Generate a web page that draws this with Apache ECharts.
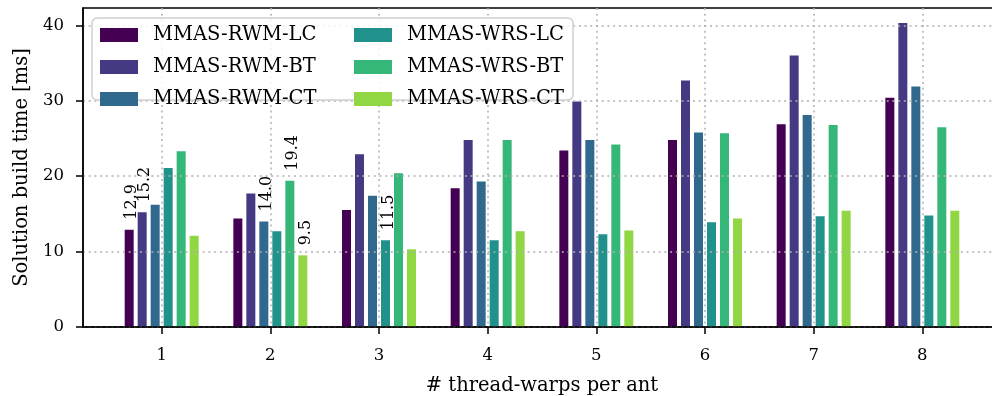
<!DOCTYPE html>
<html><head><meta charset="utf-8">
<script src="https://cdn.jsdelivr.net/npm/echarts@6/dist/echarts.min.js"></script>
<style>html,body{margin:0;padding:0;background:#fff}#c{width:992px;height:396px}</style>
</head><body><div id="c"></div>
<script>
// ---- data ----
const categories = [1, 2, 3, 4, 5, 6, 7, 8];
const seriesNames = ['MMAS-RWM-LC', 'MMAS-RWM-BT', 'MMAS-RWM-CT', 'MMAS-WRS-LC', 'MMAS-WRS-BT', 'MMAS-WRS-CT'];
const rwmLC = [12.9, 14.4, 15.5, 18.4, 23.4, 24.8, 26.9, 30.4];
const rwmBT = [15.2, 17.7, 22.9, 24.8, 29.9, 32.7, 36.0, 40.3];
const rwmCT = [16.2, 14.0, 17.4, 19.3, 24.8, 25.8, 28.1, 31.9];
const wrsLC = [21.1, 12.7, 11.5, 11.5, 12.3, 13.9, 14.7, 14.8];
const wrsBT = [23.3, 19.4, 20.4, 24.8, 24.2, 25.7, 26.8, 26.5];
const wrsCT = [12.1, 9.5, 10.3, 12.7, 12.8, 14.4, 15.4, 15.4];
const yTicks = [0, 10, 20, 30, 40];
// indices (into categories) of bars that carry a value annotation, per series
const annotatedLC = [0];
const annotatedBT = [0];
const annotatedCT = [1];
const annotatedWLC = [2];
const annotatedWBT = [1];
const annotatedWCT = [1];

const values = [rwmLC, rwmBT, rwmCT, wrsLC, wrsBT, wrsCT];
const annotated = [annotatedLC, annotatedBT, annotatedCT, annotatedWLC, annotatedWBT, annotatedWCT];
const colors = ['#440154', '#443983', '#31688e', '#21918c', '#35b779', '#90d743'];
const FONT = 'DejaVu Serif';

const chart = echarts.init(document.getElementById('c'), null, {renderer: 'canvas'});

const series = seriesNames.map((name, s) => ({
  name: name,
  type: 'bar',
  barWidth: 9,
  barGap: '44.4%',
  itemStyle: {color: colors[s]},
  label: {
    show: false, position: 'top', rotate: 90, align: 'left', verticalAlign: 'middle',
    distance: 10, offset: [0, 3], fontFamily: FONT, fontSize: 16, color: '#000',
    formatter: p => p.value[1].toFixed(1)
  },
  data: categories.map((c, i) => ({
    value: [c, values[s][i]],
    label: {show: annotated[s].indexOf(i) >= 0}
  }))
}));

const legendText = {fontFamily: FONT, fontSize: 19.5, color: '#000', lineHeight: 14, padding: [0, 0, 0, 10]};

chart.setOption({
  animation: false,
  grid: {left: 83, right: -9, top: 8, bottom: 69, show: true, borderColor: '#000', borderWidth: 1.5,
         containLabel: false, outerBoundsMode: 'none'},
  graphic: [{
    type: 'rect', z: 15,
    shape: {x: 92, y: 18, width: 481, height: 82, r: 5},
    style: {fill: 'rgba(255,255,255,0.85)', stroke: '#d0d0d0', lineWidth: 1.5}
  }],
  legend: [
    {data: seriesNames.slice(0, 3), orient: 'vertical', left: 95, top: 20, z: 20,
     icon: 'rect', itemWidth: 38, itemHeight: 14, itemGap: 12, textStyle: legendText},
    {data: seriesNames.slice(3, 6), orient: 'vertical', left: 349, top: 20, z: 20,
     icon: 'rect', itemWidth: 38, itemHeight: 14, itemGap: 12, textStyle: legendText}
  ],
  xAxis: {
    type: 'value', min: 0.276, max: 8.724, z: 10,
    name: '# thread-warps per ant', nameLocation: 'middle', nameGap: 49,
    nameTextStyle: {fontFamily: FONT, fontSize: 19.5, color: '#000'},
    axisLine: {show: true, lineStyle: {color: '#000', width: 1.5}},
    axisTick: {show: true, customValues: categories, length: 7, lineStyle: {color: '#000', width: 1.5}},
    axisLabel: {show: true, customValues: categories, margin: 20, fontFamily: FONT, fontSize: 16.5, color: '#000'},
    splitLine: {show: true, lineStyle: {color: '#b0b0b0', width: 1.5, type: [2, 3.7]}}
  },
  yAxis: {
    type: 'value', min: 0, max: 42.3, z: 10,
    name: 'Solution build time [ms]', nameLocation: 'middle', nameGap: 51,
    nameTextStyle: {fontFamily: FONT, fontSize: 19.5, color: '#000'},
    axisLine: {show: true, lineStyle: {color: '#000', width: 1.5}},
    axisTick: {show: true, customValues: yTicks, length: 7, lineStyle: {color: '#000', width: 1.5}},
    axisLabel: {show: true, customValues: yTicks, margin: 19, fontFamily: FONT, fontSize: 16.5, color: '#000'},
    splitLine: {show: true, lineStyle: {color: '#b0b0b0', width: 1.5, type: [2, 3.7]}}
  },
  series: series
});
</script>
</body></html>
